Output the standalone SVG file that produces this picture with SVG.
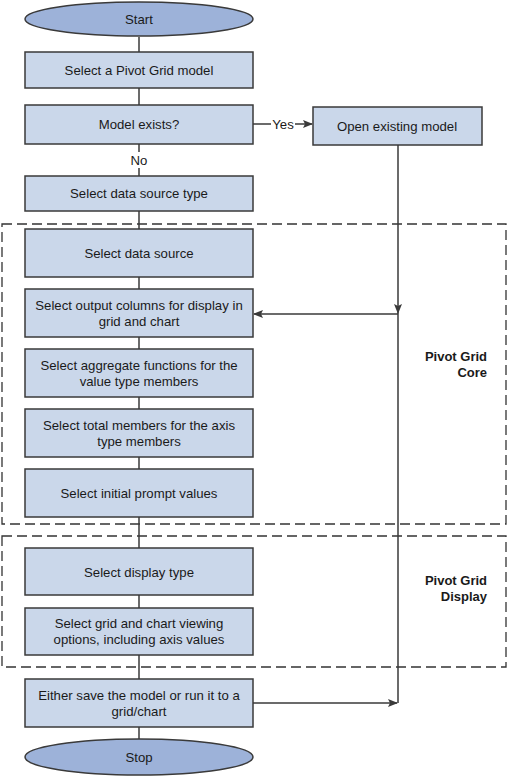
<svg xmlns="http://www.w3.org/2000/svg" width="507" height="777" viewBox="0 0 507 777">
<style>
.box{fill:#CAD7EA;stroke:#3A3A3A;stroke-width:1.5}
.term{fill:#9DB2D9;stroke:#3A3A3A;stroke-width:1.5}
.t{font-family:"Liberation Sans",Arial,sans-serif;font-size:13.2px;fill:#1a1a1a;text-anchor:middle}
.lbl{font-family:"Liberation Sans",Arial,sans-serif;font-size:13px;font-weight:bold;fill:#1a1a1a;text-anchor:end}
.c{fill:none;stroke:#3A3A3A;stroke-width:1.5}
.grp{fill:none;stroke:#333333;stroke-width:1.3;stroke-dasharray:10,5}
</style>
<defs>
<marker id="ah" markerWidth="10" markerHeight="10" refX="9" refY="4" orient="auto" markerUnits="userSpaceOnUse">
<path d="M0,0 L10,4 L0,8 L2,4 Z" fill="#3A3A3A"/>
</marker>
</defs>
<rect width="507" height="777" fill="#ffffff"/>
<g id="groups">
<rect class="grp" x="2" y="224" width="504" height="300"/>
<rect class="grp" x="2" y="536" width="504" height="131"/>
<text class="lbl" x="487" y="361">Pivot Grid</text>
<text class="lbl" x="487" y="377">Core</text>
<text class="lbl" x="487" y="585">Pivot Grid</text>
<text class="lbl" x="487" y="601">Display</text>
</g>
<g id="connectors">
<line class="c" x1="139" y1="37" x2="139" y2="52"/>
<line class="c" x1="139" y1="88" x2="139" y2="105"/>
<line class="c" x1="139" y1="144" x2="139" y2="152"/>
<line class="c" x1="139" y1="168" x2="139" y2="176"/>
<text class="t" x="139" y="165">No</text>
<line class="c" x1="139" y1="211" x2="139" y2="229"/>
<line class="c" x1="139" y1="277" x2="139" y2="289"/>
<line class="c" x1="139" y1="337" x2="139" y2="349"/>
<line class="c" x1="139" y1="397" x2="139" y2="409"/>
<line class="c" x1="139" y1="457" x2="139" y2="469"/>
<line class="c" x1="139" y1="517" x2="139" y2="548"/>
<line class="c" x1="139" y1="595" x2="139" y2="608"/>
<line class="c" x1="139" y1="655" x2="139" y2="679"/>
<line class="c" x1="139" y1="727" x2="139" y2="739"/>
<line class="c" x1="253" y1="124" x2="271" y2="124"/>
<text class="t" x="283" y="129">Yes</text>
<line class="c" x1="295" y1="124" x2="312" y2="124" marker-end="url(#ah)"/>
<line class="c" x1="398" y1="145" x2="398" y2="313" marker-end="url(#ah)"/>
<line class="c" x1="398" y1="313" x2="398" y2="703"/>
<line class="c" x1="398" y1="314" x2="254" y2="314" marker-end="url(#ah)"/>
<line class="c" x1="253" y1="703" x2="397" y2="703" marker-end="url(#ah)"/>
</g>
<g id="start">
<ellipse class="term" cx="139" cy="19" rx="114" ry="17"/>
<text class="t" x="139" y="23.5">Start</text>
</g>
<g id="select-model">
<rect class="box" x="25" y="52" width="228" height="36"/>
<text class="t" x="139" y="74.5">Select a Pivot Grid model</text>
</g>
<g id="model-exists">
<rect class="box" x="25" y="105" width="228" height="39"/>
<text class="t" x="139" y="128.5">Model exists?</text>
</g>
<g id="open-existing">
<rect class="box" x="313" y="107" width="169" height="38"/>
<text class="t" x="397" y="130.5">Open existing model</text>
</g>
<g id="select-ds-type">
<rect class="box" x="25" y="176" width="228" height="35"/>
<text class="t" x="139" y="197.5">Select data source type</text>
</g>
<g id="select-ds">
<rect class="box" x="25" y="229" width="228" height="48"/>
<text class="t" x="139" y="257.5">Select data source</text>
</g>
<g id="select-output">
<rect class="box" x="25" y="289" width="228" height="48"/>
<text class="t" x="139" y="309.5">Select output columns for display in</text>
<text class="t" x="139" y="325.5">grid and chart</text>
</g>
<g id="select-aggregate">
<rect class="box" x="25" y="349" width="228" height="48"/>
<text class="t" x="139" y="369.5">Select aggregate functions for the</text>
<text class="t" x="139" y="385.5">value type members</text>
</g>
<g id="select-total">
<rect class="box" x="25" y="409" width="228" height="48"/>
<text class="t" x="139" y="429.5">Select total members for the axis</text>
<text class="t" x="139" y="445.5">type members</text>
</g>
<g id="select-prompt">
<rect class="box" x="25" y="469" width="228" height="48"/>
<text class="t" x="139" y="497.5">Select initial prompt values</text>
</g>
<g id="select-display">
<rect class="box" x="25" y="548" width="228" height="47"/>
<text class="t" x="139" y="576.5">Select display type</text>
</g>
<g id="select-viewing">
<rect class="box" x="25" y="608" width="228" height="47"/>
<text class="t" x="139" y="627.5">Select grid and chart viewing</text>
<text class="t" x="139" y="643.5">options, including axis values</text>
</g>
<g id="save-run">
<rect class="box" x="25" y="679" width="228" height="48"/>
<text class="t" x="139" y="699.5">Either save the model or run it to a</text>
<text class="t" x="139" y="715.5">grid/chart</text>
</g>
<g id="stop">
<ellipse class="term" cx="139" cy="757" rx="114" ry="18"/>
<text class="t" x="139" y="761.5">Stop</text>
</g>
</svg>
